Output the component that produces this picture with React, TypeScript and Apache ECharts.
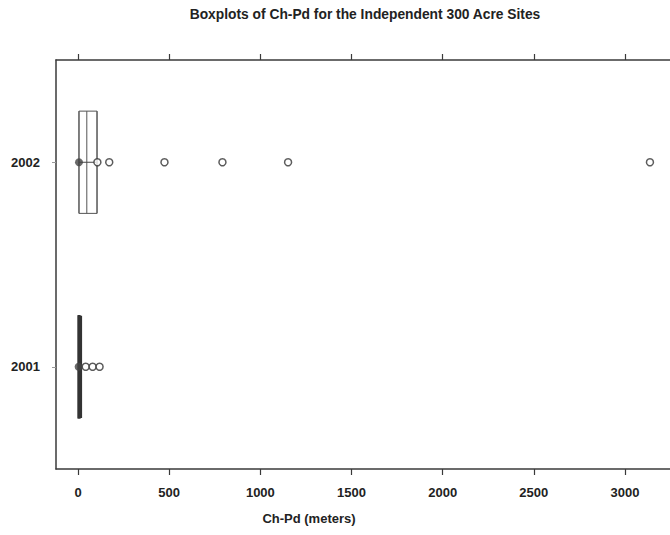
import React, { useEffect, useRef } from "react";
import * as echarts from "echarts";

// Survey years shown on the category axis (bottom to top)
const years = ["2001", "2002"];

// Box statistics per year: [lower whisker, Q1, median, Q3, upper whisker]
const boxStats2001 = [0, 1, 4, 10, 18];
const boxStats2002 = [5, 5, 48, 104, 104];

// Filled centre dot per year
const centerDot2001 = 3;
const centerDot2002 = 5;

// Connector from the centre dot across the 2002 box
const connector2002 = [5, 100];

// Outlying observations per year (meters)
const outliers2001 = [42, 80, 118];
const outliers2002 = [106, 171, 474, 792, 1152, 3137];

// Tick values on the distance axis
const distanceTicks = [0, 500, 1000, 1500, 2000, 2500, 3000];

const FONT = "'Liberation Sans', Arial, sans-serif";
const INK = "#3a3a3a";

export default function App() {
  const ref = useRef<HTMLDivElement>(null);

  useEffect(() => {
    if (!ref.current) return;
    const chart = echarts.init(ref.current, undefined, { renderer: "svg" });

    const xBase = {
      type: "value" as const,
      min: -121,
      max: 3247,
      splitLine: { show: false },
      axisLine: { show: true, onZero: false, lineStyle: { color: INK, width: 1.5 } },
      axisTick: {
        show: true,
        length: 6,
        customValues: distanceTicks,
        lineStyle: { color: INK, width: 1.2 },
      },
    };

    chart.setOption({
      animation: false,
      backgroundColor: "#ffffff",
      textStyle: { fontFamily: FONT },
      grid: { left: 56, right: 0, top: 60, bottom: 66, containLabel: false },
      graphic: [
        {
          type: "text",
          x: 365,
          y: 14,
          style: {
            text: "Boxplots of Ch-Pd for the Independent 300 Acre Sites",
            font: `bold 13.8px ${FONT}`,
            fill: "#222",
            align: "center",
            verticalAlign: "middle",
          },
        },
        {
          type: "text",
          x: 309,
          y: 518,
          style: {
            text: "Ch-Pd (meters)",
            font: `bold 13px ${FONT}`,
            fill: "#222",
            align: "center",
            verticalAlign: "middle",
          },
        },
      ],
      xAxis: [
        {
          ...xBase,
          position: "bottom",
          axisLabel: {
            show: true,
            customValues: distanceTicks,
            formatter: (v: number) => String(v),
            margin: 17,
            fontFamily: FONT,
            fontWeight: "bold",
            fontSize: 13,
            color: "#222",
          },
        },
        {
          ...xBase,
          position: "top",
          axisLabel: { show: false },
        },
      ],
      yAxis: {
        type: "category",
        data: years,
        boundaryGap: true,
        axisLine: { show: true, onZero: false, lineStyle: { color: INK, width: 1.5 } },
        axisTick: { show: true, alignWithLabel: true, length: 4, lineStyle: { color: "#999" } },
        splitLine: { show: false },
        axisLabel: {
          margin: 16,
          fontFamily: FONT,
          fontWeight: "bold",
          fontSize: 13,
          color: "#222",
        },
      },
      series: [
        {
          type: "boxplot",
          xAxisIndex: 0,
          boxWidth: ["50%", "50%"],
          itemStyle: { color: "#ffffff", borderColor: "#555", borderWidth: 1 },
          data: [
            { value: boxStats2001, itemStyle: { borderColor: "#333", borderWidth: 1.5 } },
            { value: boxStats2002 },
          ],
        },
        {
          type: "line",
          xAxisIndex: 0,
          symbol: "none",
          lineStyle: { color: "#444", width: 1.2 },
          data: connector2002.map((v) => [v, "2002"]),
          z: 3,
        },
        {
          type: "scatter",
          xAxisIndex: 0,
          symbol: "circle",
          symbolSize: 7,
          itemStyle: { color: "#ffffff", borderColor: "#333", borderWidth: 1.5 },
          data: [
            ...outliers2001.map((v) => [v, "2001"]),
            ...outliers2002.map((v) => [v, "2002"]),
          ],
          z: 4,
        },
        {
          type: "scatter",
          xAxisIndex: 0,
          symbol: "circle",
          symbolSize: 8,
          itemStyle: { color: "#444" },
          data: [
            [centerDot2001, "2001"],
            [centerDot2002, "2002"],
          ],
          z: 5,
        },
      ],
    });

    return () => chart.dispose();
  }, []);

  return (
    <div
      ref={ref}
      style={{ position: "absolute", left: 0, top: 0, width: 670, height: 535 }}
    />
  );
}
